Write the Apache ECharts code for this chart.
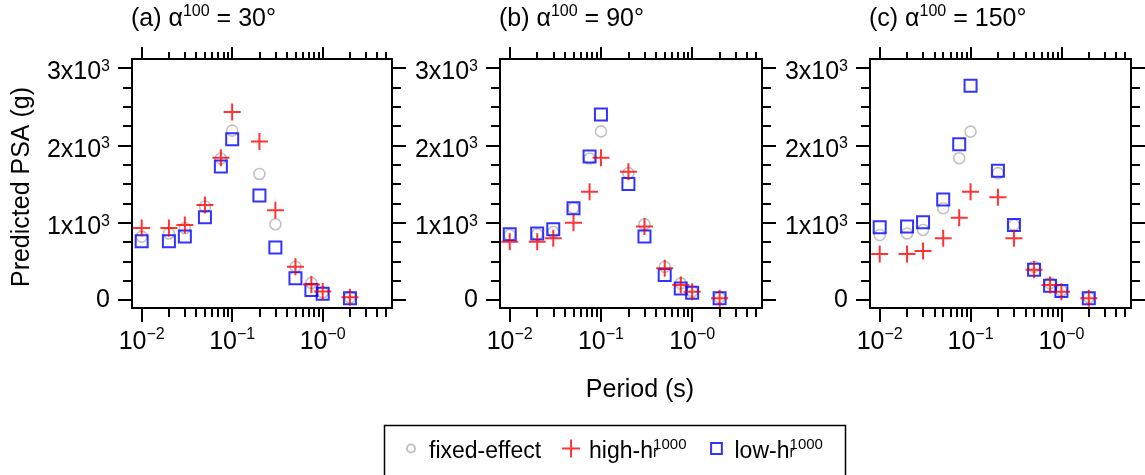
<!DOCTYPE html>
<html><head><meta charset="utf-8">
<script src="https://cdn.jsdelivr.net/npm/echarts@6/dist/echarts.min.js"></script>
<style>html,body{margin:0;padding:0;background:#fff}#c{width:1145px;height:475px}</style>
</head><body><div id="c"></div>
<script>
// ---------- data ----------
const periods = [0.01, 0.02, 0.03, 0.05, 0.075, 0.1, 0.2, 0.3, 0.5, 0.75, 1, 2];

const fixedA = [820, 860, 930, 1210, 1830, 2190, 1630, 980, 430, 220, 100, 35];
const highA  = [930, 930, 970, 1230, 1840, 2430, 2050, 1160, 430, 200, 110, 35];
const lowA   = [760, 760, 820, 1070, 1725, 2080, 1350, 680, 280, 130, 80, 22];

const fixedB = [840, 850, 880, 1190, 1830, 2180, 1640, 980, 430, 215, 110, 35];
const highB  = [755, 755, 800, 1000, 1400, 1840, 1660, 950, 410, 195, 108, 22];
const lowB   = [850, 860, 915, 1185, 1855, 2400, 1500, 820, 325, 150, 95, 22];

const fixedC = [840, 860, 905, 1186, 1833, 2177, 1640, 970, 430, 215, 120, 35];
const highC  = [595, 595, 635, 800, 1065, 1400, 1330, 800, 390, 195, 108, 22];
const lowC   = [940, 950, 1005, 1300, 2015, 2770, 1670, 970, 390, 185, 116, 22];

const panelTitles = ['{m|(a) α}{sup|100}{m| = 30°}', '{m|(b) α}{sup|100}{m| = 90°}', '{m|(c) α}{sup|100}{m| = 150°}'];
const seriesNames = ['fixed-effect', 'high-hr1000', 'low-hr1000'];
const legendLabels = ['{m|fixed-effect}', '{m|high-h}{sub|r}{sup|1000}', '{m|low-h}{sub|r}{sup|1000}'];

const xMajorTicks = [0.01, 0.1, 1];
const xTickLabels = ['{m|10}{sup|−2}', '{m|10}{sup|−1}', '{m|10}{sup|−0}'];
const xMinorTicks = [0.02, 0.03, 0.04, 0.05, 0.06, 0.07, 0.08, 0.09, 0.2, 0.3, 0.4, 0.5, 0.6, 0.7, 0.8, 0.9, 2, 3, 4, 5];
const yMajorTicks = [0, 1000, 2000, 3000];
const yTickLabels = ['0', '{m|1x10}{sup|3}', '{m|2x10}{sup|3}', '{m|3x10}{sup|3}'];
const yMinorTicks = [250, 500, 750, 1250, 1500, 1750, 2250, 2500, 2750];

const xAxisTitle = 'Period (s)';
const yAxisTitle = 'Predicted PSA (g)';

// ---------- layout / style ----------
const FONT = '"Liberation Sans", Arial, sans-serif';
const panels = [
  {left: 132, width: 260, data: [fixedA, highA, lowA]},
  {left: 500, width: 262, data: [fixedB, highB, lowB]},
  {left: 870, width: 261, data: [fixedC, highC, lowC]}
];
const GRID_TOP = 59, GRID_H = 249;
const XMIN = 0.00782, XMAX = 5.83, YMIN = -103, YMAX = 3116;

function rich(mPad, sPad) {
  return {
    m: {fontSize: 25, lineHeight: 25, padding: [mPad, 0, 0, 0], fontFamily: FONT, color: '#000'},
    sup: {fontSize: 16, lineHeight: 16, padding: [sPad, 0, 0, 0], verticalAlign: 'top', fontFamily: FONT, color: '#000'}
  };
}
const xRich = rich(6, 0), yRich = rich(9, 3), titleRich = rich(9, 2);

const PLUS = 'path://M0,10L20,10M10,0L10,20';
const SQUARE = 'path://M0,0L10,0L10,10L0,10Z';
const legendIcons = [
  'path://M0,0M20,20M5.5,10A4.5,4.5,0,1,1,14.5,10A4.5,4.5,0,1,1,5.5,10Z',
  PLUS,
  'path://M0,0M20,20M4,4L16,4L16,16L4,16Z'
];

const grids = [], xAxes = [], yAxes = [], series = [], titles = [];
const line = {show: true, onZero: false, lineStyle: {color: '#000', width: 2}};

function nearestIdx(arr, v, log) {
  let best = 0, bd = Infinity;
  arr.forEach((a, i) => {
    const d = log ? Math.abs(Math.log10(a) - Math.log10(v)) : Math.abs(a - v);
    if (d < bd) { bd = d; best = i; }
  });
  return best;
}

panels.forEach((p, g) => {
  grids.push({left: p.left, top: GRID_TOP, width: p.width, height: GRID_H, containLabel: false});
  const xBase = {type: 'log', logBase: 10, min: XMIN, max: XMAX, gridIndex: g, splitLine: {show: false}};
  xAxes.push(Object.assign({}, xBase, {
    position: 'bottom', axisLine: line,
    axisTick: {show: true, customValues: xMajorTicks, length: 14, lineStyle: {color: '#000', width: 2}},
    axisLabel: {show: true, customValues: xMajorTicks, margin: 19, fontFamily: FONT, fontSize: 25, color: '#000',
      formatter: v => xTickLabels[nearestIdx(xMajorTicks, v, true)], rich: xRich}
  }));
  xAxes.push(Object.assign({}, xBase, {
    position: 'bottom', axisLine: {show: false, onZero: false},
    axisTick: {show: true, customValues: xMinorTicks, length: 9, lineStyle: {color: '#000', width: 2}},
    axisLabel: {show: false}
  }));
  xAxes.push(Object.assign({}, xBase, {
    position: 'top', axisLine: line,
    axisTick: {show: true, customValues: xMajorTicks, length: 12, lineStyle: {color: '#000', width: 2}},
    axisLabel: {show: false}
  }));
  xAxes.push(Object.assign({}, xBase, {
    position: 'top', axisLine: {show: false, onZero: false},
    axisTick: {show: true, customValues: xMinorTicks, length: 7, lineStyle: {color: '#000', width: 2}},
    axisLabel: {show: false}
  }));

  const yBase = {type: 'value', min: YMIN, max: YMAX, gridIndex: g, splitLine: {show: false}};
  yAxes.push(Object.assign({}, yBase, {
    position: 'left', axisLine: line,
    axisTick: {show: true, customValues: yMajorTicks, length: 14, lineStyle: {color: '#000', width: 2}},
    axisLabel: {show: true, customValues: yMajorTicks, margin: 22, fontFamily: FONT, fontSize: 25, color: '#000',
      formatter: v => yTickLabels[nearestIdx(yMajorTicks, v, false)], rich: yRich}
  }));
  yAxes.push(Object.assign({}, yBase, {
    position: 'left', axisLine: {show: false, onZero: false},
    axisTick: {show: true, customValues: yMinorTicks, length: 9, lineStyle: {color: '#000', width: 2}},
    axisLabel: {show: false}
  }));
  yAxes.push(Object.assign({}, yBase, {
    position: 'right', axisLine: line,
    axisTick: {show: true, customValues: yMajorTicks, length: 14, lineStyle: {color: '#000', width: 2}},
    axisLabel: {show: false}
  }));
  yAxes.push(Object.assign({}, yBase, {
    position: 'right', axisLine: {show: false, onZero: false},
    axisTick: {show: true, customValues: yMinorTicks, length: 9, lineStyle: {color: '#000', width: 2}},
    axisLabel: {show: false}
  }));

  const styles = [
    {symbol: 'circle', symbolSize: 11, itemStyle: {color: 'transparent', borderColor: '#b3b3b3', borderWidth: 1.6}, z: 2},
    {symbol: PLUS, symbolSize: 17, itemStyle: {color: 'transparent', borderColor: '#ff0000', borderWidth: 2}, z: 4},
    {symbol: SQUARE, symbolSize: 12, itemStyle: {color: 'transparent', borderColor: '#0000ff', borderWidth: 2}, z: 3}
  ];
  p.data.forEach((vals, s) => {
    series.push(Object.assign({
      type: 'scatter', name: seriesNames[s], xAxisIndex: g * 4, yAxisIndex: g * 4,
      data: periods.map((t, i) => [t, vals[i]]),
      emphasis: {disabled: true}, animation: false
    }, styles[s]));
  });

  titles.push({
    text: panelTitles[g], left: p.left - 1, top: 2, padding: 0,
    textStyle: {fontSize: 25, fontWeight: 'normal', color: '#000', fontFamily: FONT, rich: titleRich}
  });
});

const chart = echarts.init(document.getElementById('c'), null, {renderer: 'canvas'});
chart.setOption({
  backgroundColor: '#fff',
  animation: false,
  title: titles,
  grid: grids,
  xAxis: xAxes,
  yAxis: yAxes,
  series: series,
  legend: {
    data: seriesNames.map((n, i) => ({name: n, icon: legendIcons[i]})),
    left: 401, top: 431, padding: 0, itemGap: 20,
    itemWidth: 26, itemHeight: 18, selectedMode: false,
    formatter: name => legendLabels[seriesNames.indexOf(name)],
    textStyle: {fontSize: 23, color: '#000', fontFamily: FONT,
      rich: {
        m: {fontSize: 23, lineHeight: 23, padding: [9, 0, 3, 0], fontFamily: FONT, color: '#000'},
        sub: {fontSize: 15, lineHeight: 15, verticalAlign: 'bottom', width: 0.1, fontFamily: FONT, color: '#000'},
        sup: {fontSize: 15, lineHeight: 15, verticalAlign: 'top', fontFamily: FONT, color: '#000'}
      }}
  },
  graphic: [
    {type: 'rect', left: 382, top: 423, shape: {width: 461, height: 60}, style: {fill: 'none', stroke: '#000', lineWidth: 1.5}, silent: true},
    {type: 'text', x: 640, y: 390, style: {text: xAxisTitle, fontSize: 25, fontFamily: FONT, fill: '#000', textAlign: 'center', textVerticalAlign: 'middle'}},
    {type: 'text', x: 22, y: 187, rotation: Math.PI / 2, style: {text: yAxisTitle, fontSize: 25, fontFamily: FONT, fill: '#000', textAlign: 'center', textVerticalAlign: 'middle'}}
  ]
});
</script>
</body></html>
